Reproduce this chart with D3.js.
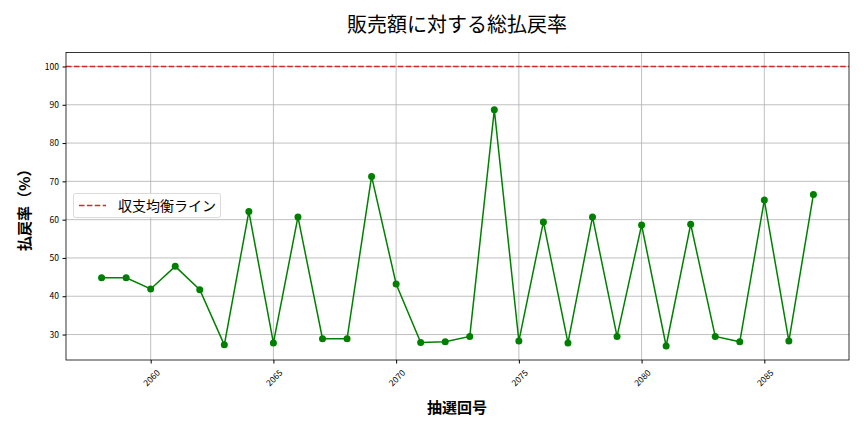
<!DOCTYPE html>
<html><head><meta charset="utf-8">
<script src="https://cdn.jsdelivr.net/npm/d3@7"></script>
<style>body{margin:0;background:#fff}svg{display:block}text{font-family:"Noto Sans CJK JP","DejaVu Sans",sans-serif}</style>
</head><body><svg id="c" width="864" height="432"></svg>
<script>
const rounds = [2058,2059,2060,2061,2062,2063,2064,2065,2066,2067,2068,2069,2070,2071,2072,2073,2074,2075,2076,2077,2078,2079,2080,2081,2082,2083,2084,2085,2086,2087];
const payoutRate = [44.8,44.8,41.9,47.8,41.7,27.3,62.1,27.8,60.7,28.9,28.9,71.3,43.2,27.9,28.1,29.5,88.7,28.3,59.4,27.8,60.7,29.5,58.6,27.0,58.8,29.5,28.1,65.1,28.3,66.6];
const xTicks = [2060,2065,2070,2075,2080,2085];
const yTicks = [30,40,50,60,70,80,90,100];
const breakEven = 100;
const title = "販売額に対する総払戻率";
const xLabel = "抽選回号";
const yLabel = "払戻率（%）";
const legendLabel = "収支均衡ライン";

const svg = d3.select("#c");
const m = {l:66, r:849, t:52.5, b:360};
const x = d3.scaleLinear().domain([2056.55, 2088.45]).range([m.l, m.r]);
const y = d3.scaleLinear().domain([23.35, 103.65]).range([m.b, m.t]);

// grid
const g = svg.append("g");
g.selectAll(".gx").data(xTicks).enter().append("line")
  .attr("x1", d=>x(d)).attr("x2", d=>x(d)).attr("y1", m.t).attr("y2", m.b)
  .attr("stroke", "#b0b0b0").attr("stroke-width", 0.8);
g.selectAll(".gy").data(yTicks).enter().append("line")
  .attr("x1", m.l).attr("x2", m.r).attr("y1", d=>y(d)).attr("y2", d=>y(d))
  .attr("stroke", "#b0b0b0").attr("stroke-width", 0.8);

// axes
const xAxis = svg.append("g").attr("transform", `translate(0,${m.b})`)
  .call(d3.axisBottom(x).tickValues(xTicks).tickSize(3.5).tickPadding(3).tickFormat(d3.format("d")));
xAxis.select(".domain").remove();
xAxis.selectAll("text").attr("font-size", 8.5).attr("fill", "#000")
  .attr("text-anchor", "middle").attr("dy", "0.35em").attr("y", 0)
  .attr("transform", "translate(0.5,18) rotate(-45)");
const yAxis = svg.append("g").attr("transform", `translate(${m.l},0)`)
  .call(d3.axisLeft(y).tickValues(yTicks).tickSize(3.5).tickPadding(3.5));
yAxis.select(".domain").remove();
yAxis.selectAll("text").attr("font-size", 8.5).attr("fill", "#000");

// break-even line
svg.append("line").attr("x1", m.l).attr("x2", m.r).attr("y1", y(breakEven)).attr("y2", y(breakEven))
  .attr("stroke", "#d62728").attr("stroke-width", 1.5).attr("stroke-dasharray", "5.5,2.4");

// data line
svg.append("path").datum(rounds.map((r,i)=>[r,payoutRate[i]]))
  .attr("d", d3.line().x(d=>x(d[0])).y(d=>y(d[1])))
  .attr("fill", "none").attr("stroke", "green").attr("stroke-width", 1.5);
svg.selectAll(".pt").data(rounds).enter().append("circle")
  .attr("cx", d=>x(d)).attr("cy", (d,i)=>y(payoutRate[i])).attr("r", 3.5).attr("fill", "green");

// frame
svg.append("rect").attr("x", m.l).attr("y", m.t).attr("width", m.r-m.l).attr("height", m.b-m.t)
  .attr("fill", "none").attr("stroke", "#000").attr("stroke-width", 0.8);

// legend
const lg = svg.append("g");
lg.append("rect").attr("x", 73.5).attr("y", 193.5).attr("width", 147).attr("height", 24).attr("rx", 2)
  .attr("fill", "#fff").attr("fill-opacity", 0.8).attr("stroke", "#d0d0d0").attr("stroke-width", 0.8);
lg.append("line").attr("x1", 79).attr("x2", 106).attr("y1", 205.5).attr("y2", 205.5)
  .attr("stroke", "#d62728").attr("stroke-width", 1.5).attr("stroke-dasharray", "5.5,2.4");
lg.append("text").attr("x", 118).attr("y", 210.5).attr("font-size", 14).text(legendLabel);

// titles
svg.append("text").attr("x", 457).attr("y", 32).attr("text-anchor", "middle").attr("font-size", 20).text(title);
svg.append("text").attr("x", 457).attr("y", 413).attr("text-anchor", "middle").attr("font-size", 15).attr("font-weight", "bold").text(xLabel);
svg.append("text").attr("transform", `translate(30,${(m.t+m.b)/2}) rotate(-90)`).attr("text-anchor", "middle")
  .attr("font-size", 15).attr("font-weight", "bold").text(yLabel);
</script></body></html>
